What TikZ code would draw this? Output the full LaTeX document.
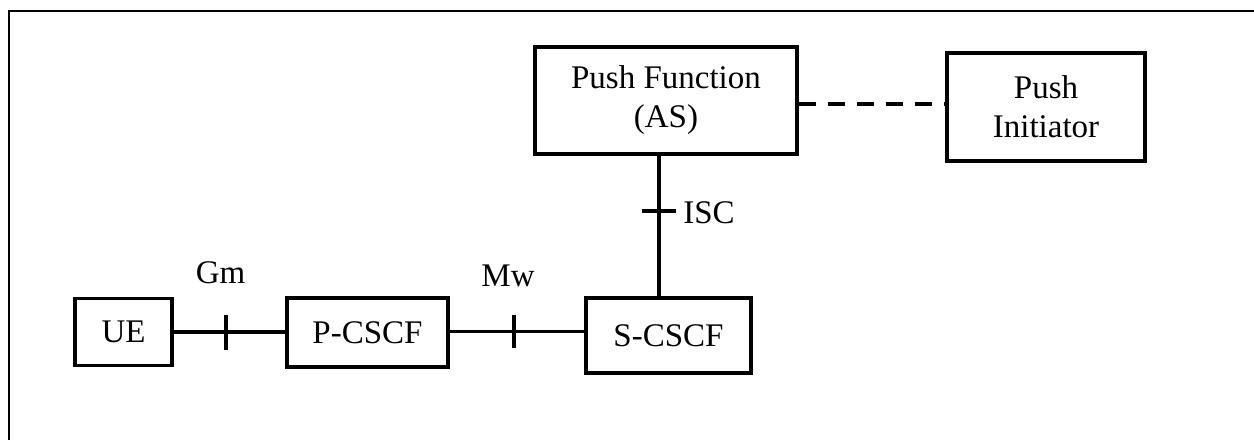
\documentclass[tikz,border=0pt]{standalone}
\usepackage{fontspec}
\setmainfont{Liberation Serif}
\usetikzlibrary{calc}
\begin{document}
\begin{tikzpicture}[x=0.5pt,y=-0.5pt,
  box/.style={draw, line width=1.7pt, inner sep=0pt, align=center,
    font=\fontsize{16.5}{19.5}\selectfont},
  conn/.style={line width=1.6pt},
  tick/.style={line width=2.2pt},
  lbl/.style={inner sep=0pt, font=\fontsize{16.5}{19.5}\selectfont},
  frame/.style={line width=0.7pt}]
\useasboundingbox (0,0) rectangle (1254,440);
\draw[frame] (9,440) -- (9,11) -- (1254,11);

\node[box, minimum width=48.5pt, minimum height=33.5pt] (UE) at (123.5,332) {UE};
\node[box, minimum width=80.5pt, minimum height=34.5pt] (PCSCF) at (367.5,332.5) {P-CSCF};
\node[box, minimum width=82.5pt, minimum height=37.5pt] (SCSCF) at (668.5,335.5) {S-CSCF};
\node[box, minimum width=131pt, minimum height=53.5pt] (PF) at (666,100.5) {Push Function\\(AS)};
\node[box, minimum width=99pt, minimum height=54pt] (PI) at (1046,107) {Push\\Initiator};

\coordinate (gm) at (226,332);
\coordinate (mw) at (514,331.5);
\coordinate (isc) at (659,211);

\draw[conn] (UE.east) -- (PCSCF.west |- UE.east);
\draw[conn] (PCSCF.east |- mw) -- (SCSCF.west |- mw);
\draw[conn] (PF.south -| isc) -- (SCSCF.north -| isc);
\draw[conn, line width=1.8pt, dash pattern=on 8.5pt off 6pt] (PF.east |- 0,104) -- (PI.west |- 0,104);

\draw[tick] ($(gm)+(0,-17.5)$) -- ($(gm)+(0,17.5)$);
\draw[tick] ($(mw)+(0,-16.5)$) -- ($(mw)+(0,16.5)$);
\draw[tick] ($(isc)+(-17.5,0)$) -- ($(isc)+(16.5,0)$);

\node[lbl, anchor=base] (gml) at (220.5,283) {Gm};
\node[lbl, anchor=base] (mwl) at (508,286) {Mw};
\node[lbl, anchor=base west] (iscl) at (683,223) {ISC};
\end{tikzpicture}
\end{document}
